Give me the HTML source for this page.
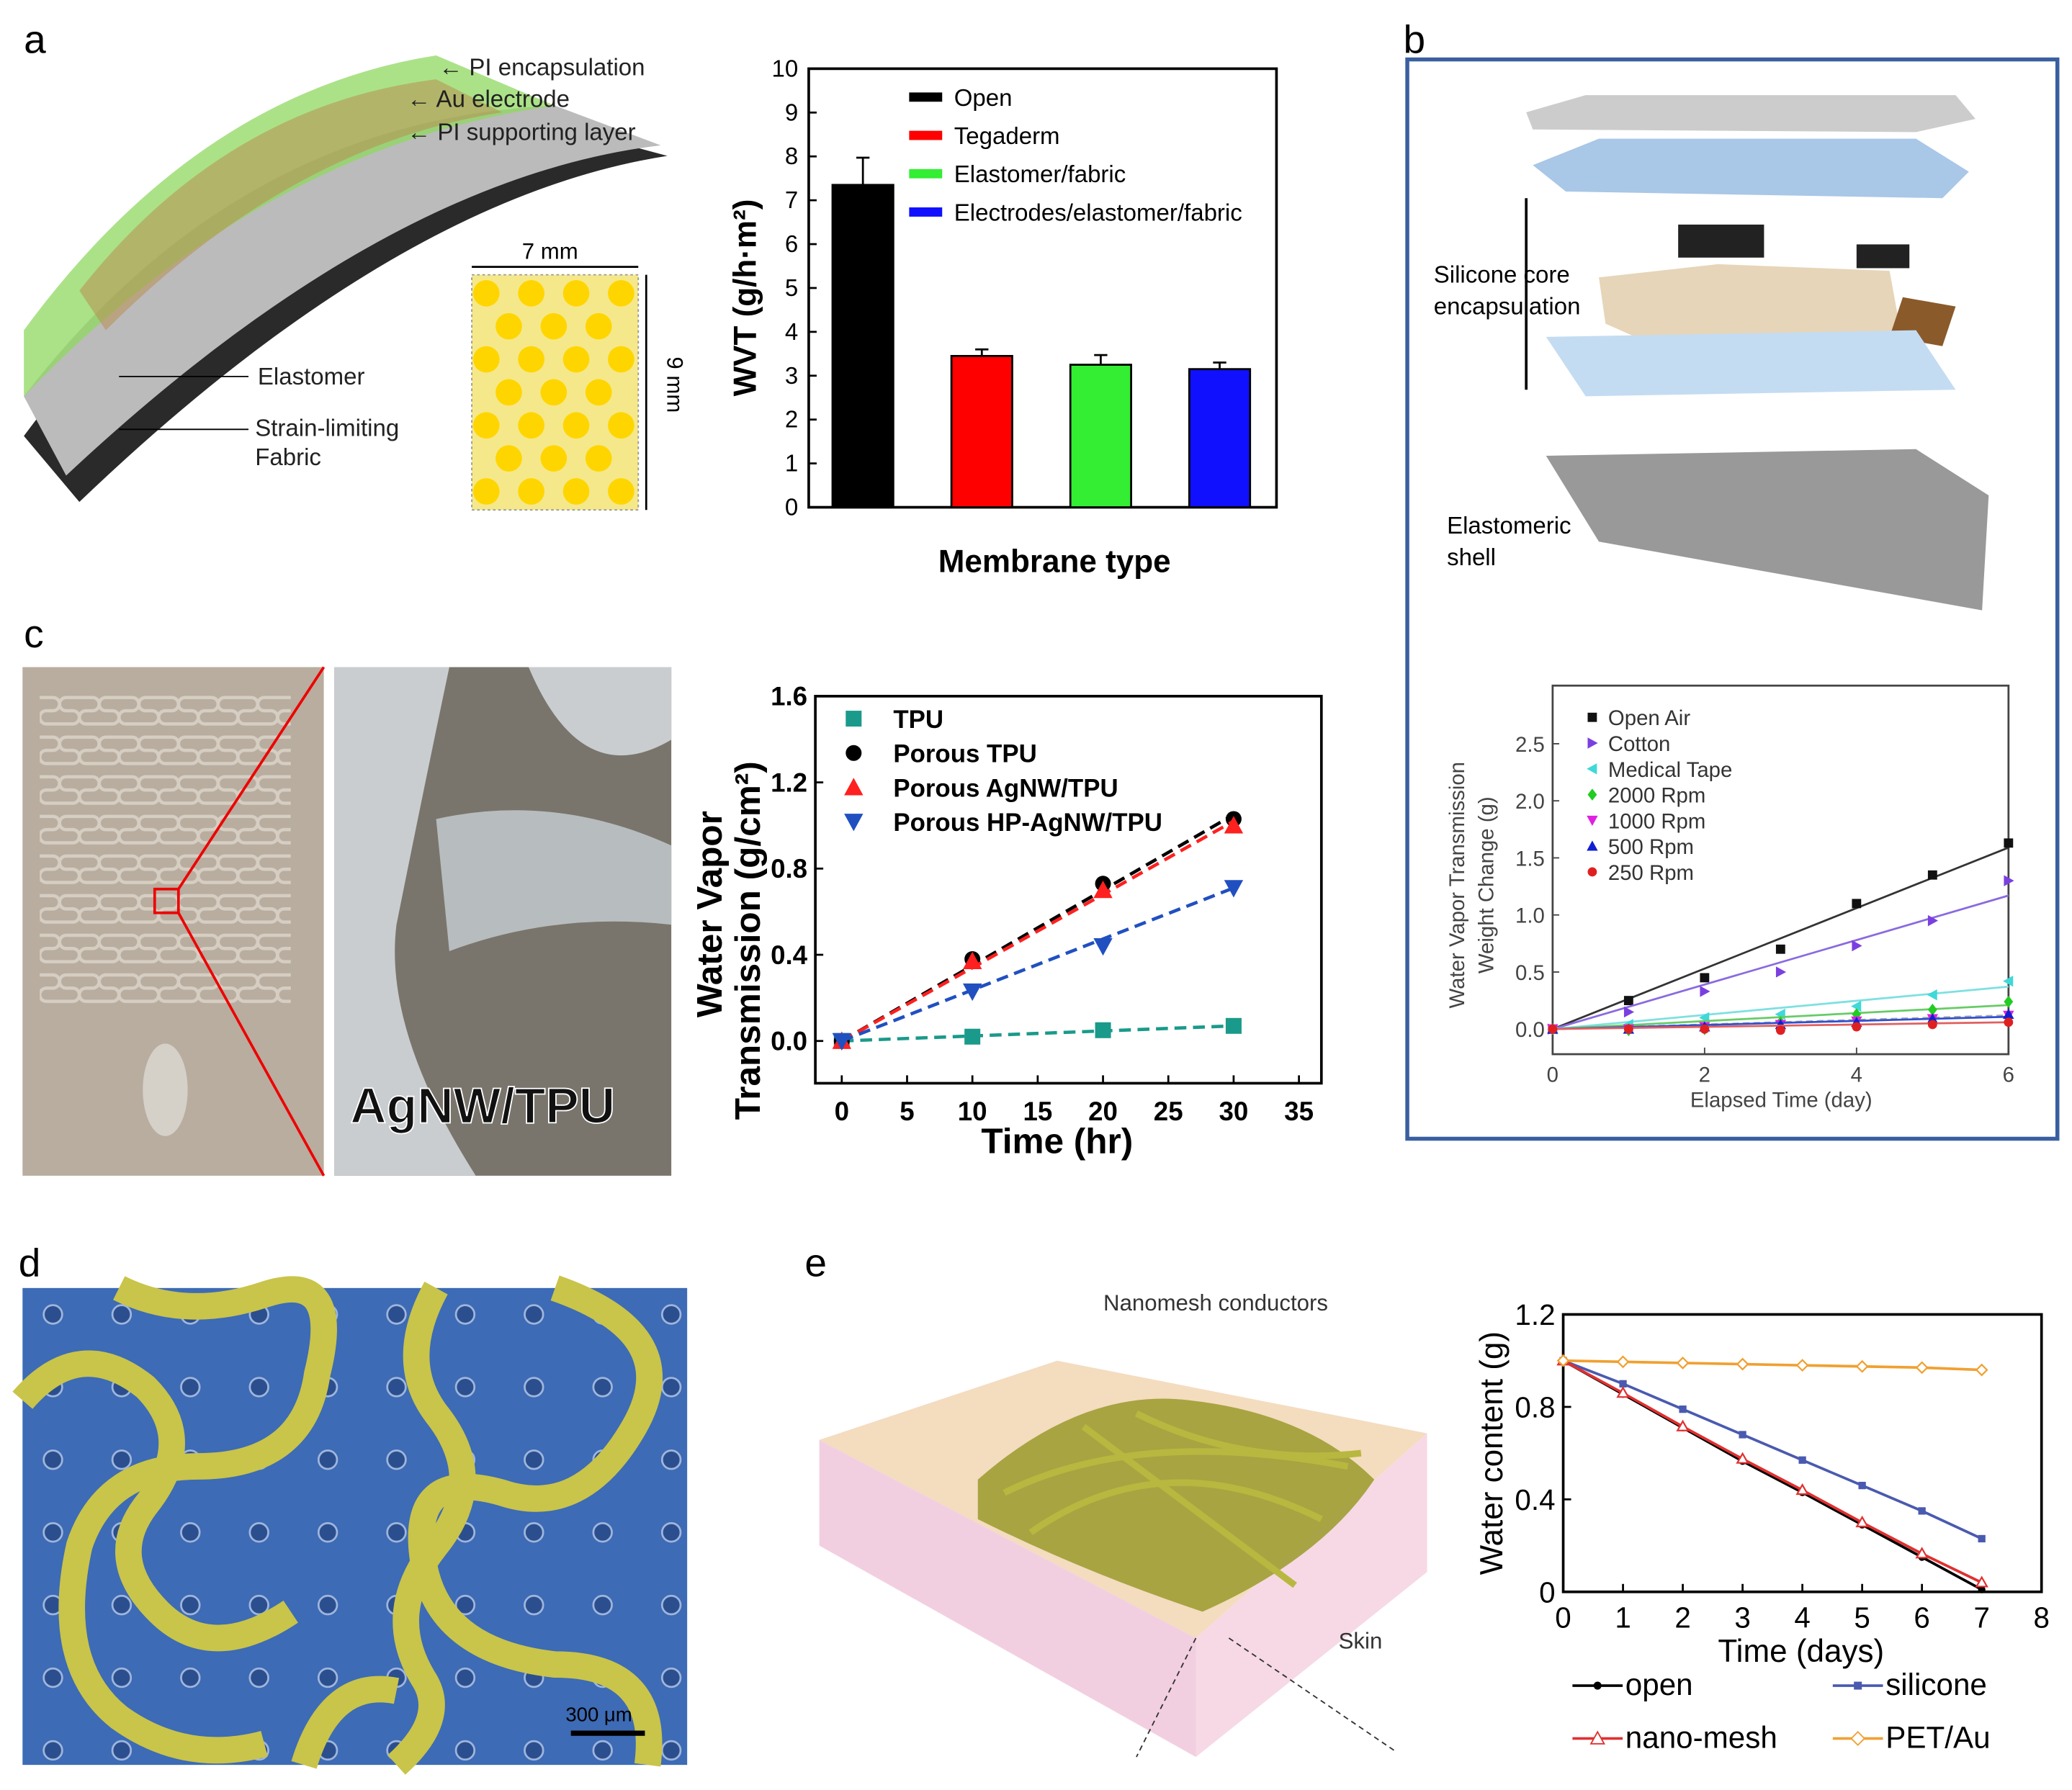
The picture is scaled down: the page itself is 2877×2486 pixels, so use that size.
<!DOCTYPE html>
<html><head><meta charset="utf-8"><style>
html,body{margin:0;padding:0;background:#fff}
svg{display:block}
text{font-family:"Liberation Sans",Arial,sans-serif}
</style></head><body>
<svg id="fig" xmlns="http://www.w3.org/2000/svg" width="2877" height="2486" viewBox="0 0 1568 1355">
<defs>
<pattern id="serp" x="30" y="520" width="30" height="30" patternUnits="userSpaceOnUse">
<path d="M0,8 h10 a5,5 0 0 1 0,10 h-5 a5,5 0 0 0 0,10 h20 a5,5 0 0 0 0,-10 h-5 a5,5 0 0 1 0,-10 h10" fill="none" stroke="#d6cec2" stroke-width="2.5"/>
</pattern>
</defs>
<rect width="1568" height="1355" fill="#fff"/>
<!-- panel labels -->
<text x="18" y="40" font-size="30">a</text>
<text x="1062" y="40" font-size="30">b</text>
<text x="18" y="490" font-size="30">c</text>
<text x="14" y="966" font-size="30">d</text>
<text x="609" y="966" font-size="30">e</text>

<!-- panel a illustration -->
<g>
<path d="M18,330 Q180,110 420,95 L505,118 Q300,150 60,380 Z" fill="#2a2a2a"/>
<path d="M18,300 Q180,90 420,80 L500,110 Q290,135 50,360 Z" fill="#bbb"/>
<path d="M18,250 Q150,70 330,42 L420,80 Q200,110 18,300 Z" fill="#8fd860" opacity="0.75"/>
<path d="M60,220 Q170,80 330,60 L380,85 Q220,110 80,250 Z" fill="#b89050" opacity="0.55"/>
<rect x="357" y="208" width="126" height="178" fill="#f5e88a" stroke="#999" stroke-dasharray="2,2"/>
<g id="dotsA"></g>
<line x1="357" y1="202" x2="483" y2="202" stroke="#000" stroke-width="1.5"/>
<text x="395" y="196" font-size="17">7 mm</text>
<line x1="489" y1="208" x2="489" y2="386" stroke="#000" stroke-width="1.5"/>
<text x="0" y="0" font-size="17" transform="translate(505,270) rotate(90)">9 mm</text>
<g font-size="18" fill="#222">
<text x="332" y="57">← PI encapsulation</text>
<text x="308" y="81">← Au electrode</text>
<text x="308" y="106">← PI supporting layer</text>
<text x="195" y="291">Elastomer</text>
<text x="193" y="330">Strain-limiting</text>
<text x="193" y="352">Fabric</text>
</g>
<line x1="90" y1="285" x2="188" y2="285" stroke="#000"/>
<line x1="90" y1="325" x2="188" y2="325" stroke="#000"/>
</g>

<!-- chart a -->
<g id="chartA"></g>
<!-- panel b -->
<rect x="1065" y="45" width="492" height="817" fill="none" stroke="#3a5fa0" stroke-width="3"/>
<g>
<polygon points="1155,85 1200,72 1480,72 1495,90 1450,100 1160,98" fill="#ccc"/>
<polygon points="1160,125 1210,105 1450,105 1490,130 1470,150 1185,145" fill="#a9c7e6"/>
<rect x="1270" y="170" width="65" height="25" fill="#222"/>
<rect x="1405" y="185" width="40" height="18" fill="#222"/>
<polygon points="1210,210 1300,200 1430,205 1440,260 1260,265 1215,245" fill="#e6d5b8"/>
<polygon points="1440,225 1480,232 1470,262 1430,255" fill="#8b5a2b"/>
<polygon points="1170,255 1450,250 1480,295 1200,300" fill="#c4dcf2"/>
<polygon points="1170,345 1450,340 1505,375 1500,462 1210,410" fill="#999"/>
<line x1="1155" y1="150" x2="1155" y2="295" stroke="#000" stroke-width="2"/>
<text x="1085" y="214" font-size="18">Silicone core</text>
<text x="1085" y="238" font-size="18">encapsulation</text>
<text x="1095" y="404" font-size="18">Elastomeric</text>
<text x="1095" y="428" font-size="18">shell</text>
</g>
<g id="chartB"></g>

<!-- panel c photos -->
<rect x="17" y="505" width="228" height="385" fill="#b8ad9f"/>
<rect x="30" y="520" width="190" height="240" fill="url(#serp)"/>
<ellipse cx="125" cy="825" rx="17" ry="35" fill="#d5d0c8"/>
<rect x="117" y="673" width="18" height="18" fill="none" stroke="#e00" stroke-width="2"/>
<line x1="135" y1="673" x2="245" y2="505" stroke="#e00" stroke-width="2"/>
<line x1="135" y1="691" x2="245" y2="890" stroke="#e00" stroke-width="2"/>
<rect x="253" y="505" width="255" height="385" fill="#7a756c"/>
<path d="M253,505 L340,505 Q320,600 300,700 Q290,780 360,890 L253,890 Z M400,505 L508,505 L508,560 Q440,600 400,505 Z" fill="#c9cdd0"/>
<path d="M330,620 Q420,600 508,640 L508,700 Q420,690 340,720 Z" fill="#b7bcbe"/>
<text x="265" y="850" font-size="38" font-weight="bold" fill="#111" stroke="#fff" stroke-width="1">AgNW/TPU</text>
<g id="chartC"></g>

<!-- panel d -->
<rect x="17" y="975" width="503" height="361" fill="#3d6bb5"/>
<g id="holesD"></g>
<g fill="none" stroke="#c9c44a" stroke-width="20">
<path d="M17,1060 Q60,1010 110,1050 Q150,1090 110,1140 Q80,1180 120,1220 Q160,1260 220,1220"/>
<path d="M90,975 Q140,1000 200,980 Q260,960 240,1040 Q230,1110 150,1110 Q80,1110 60,1170 Q40,1260 90,1300 Q140,1336 200,1320"/>
<path d="M330,975 Q300,1030 330,1070 Q370,1120 330,1170 Q290,1220 320,1270 Q340,1300 300,1336"/>
<path d="M420,975 Q520,1010 480,1080 Q440,1150 380,1130 Q310,1110 320,1180 Q330,1250 420,1260 Q500,1260 490,1336"/>
<path d="M230,1336 Q250,1270 300,1280"/>
</g>
<line x1="432" y1="1312" x2="488" y2="1312" stroke="#000" stroke-width="4"/>
<text x="428" y="1303" font-size="15">300 μm</text>

<!-- panel e illustration -->
<g>
<polygon points="620,1090 800,1030 1080,1085 905,1240" fill="#f4dcbf"/>
<polygon points="620,1090 905,1240 905,1330 620,1170" fill="#f2cfe0"/>
<polygon points="905,1240 1080,1085 1080,1190 905,1330" fill="#f7d9e5"/>
<path d="M740,1120 Q820,1050 900,1060 Q990,1070 1040,1120 Q1000,1180 910,1220 Q820,1190 740,1150 Z" fill="#9a9a2a" opacity="0.85"/>
<g stroke="#b8b840" stroke-width="5" fill="none">
<path d="M760,1130 Q860,1080 1020,1110"/><path d="M780,1160 Q880,1090 1000,1150"/><path d="M820,1080 Q900,1140 980,1200"/><path d="M860,1070 Q940,1110 1030,1100"/>
</g>
<text x="835" y="992" font-size="17" fill="#333">Nanomesh conductors</text>
<text x="1013" y="1248" font-size="17" fill="#333">Skin</text>
<line x1="905" y1="1240" x2="860" y2="1330" stroke="#333" stroke-dasharray="4,3"/>
<line x1="930" y1="1240" x2="1055" y2="1325" stroke="#333" stroke-dasharray="4,3"/>
</g>
<g id="chartE"></g>

<script>
// ---------- chart a data ----------
const aCategories=["Open","Tegaderm","Elastomer/fabric","Electrodes/elastomer/fabric"];
const aValues=[7.35,3.45,3.25,3.15];
const aErrors=[0.62,0.15,0.22,0.15];
const aColors=["#000","#ff0000","#33ee33","#1010ff"];
const aTicks=[0,1,2,3,4,5,6,7,8,9,10];
// ---------- chart b data ----------
const bSeries=["Open Air","Cotton","Medical Tape","2000 Rpm","1000 Rpm","500 Rpm","250 Rpm"];
const bDays=[0,1,2,3,4,5,6];
const bOpen=[0,0.25,0.45,0.7,1.1,1.35,1.63];
const bCotton=[0,0.15,0.33,0.5,0.73,0.95,1.3];
const bTape=[0,0.04,0.1,0.13,0.2,0.3,0.42];
const b2000=[0,-0.01,0.0,0.06,0.13,0.17,0.24];
const b1000=[0,0.0,0.02,0.04,0.07,0.09,0.12];
const b500=[0,0.0,0.02,0.04,0.06,0.09,0.13];
const b250=[0,0.0,0.0,-0.01,0.02,0.04,0.06];
const bSlopes=[0.265,0.195,0.062,0.035,0.02,0.018,0.01];
const bYTicks=[0.0,0.5,1.0,1.5,2.0,2.5];
const bXTicks=[0,2,4,6];
// ---------- chart c data ----------
const cSeries=["TPU","Porous TPU","Porous AgNW/TPU","Porous HP-AgNW/TPU"];
const cTimes=[0,10,20,30];
const cTPU=[0,0.02,0.05,0.07];
const cPorous=[0,0.38,0.73,1.03];
const cAgNW=[0,0.37,0.70,1.00];
const cHP=[0,0.23,0.44,0.71];
const cYTicks=[0.0,0.4,0.8,1.2,1.6];
const cXTicks=[0,5,10,15,20,25,30,35];
// ---------- chart e data ----------
const eSeries=["open","silicone","nano-mesh","PET/Au"];
const eDays=[0,1,2,3,4,5,6,7];
const eOpen=[1,0.855,0.71,0.565,0.43,0.29,0.15,0.01];
const eSilicone=[1,0.9,0.79,0.68,0.57,0.46,0.35,0.23];
const eNano=[1,0.86,0.715,0.575,0.44,0.3,0.165,0.04];
const ePET=[1,0.995,0.99,0.985,0.98,0.975,0.97,0.96];
const eYTicks=[0,0.4,0.8,1.2];
const eXTicks=[0,1,2,3,4,5,6,7,8];

const NS="http://www.w3.org/2000/svg";
function mk(parent,tag,attrs,name){const e=document.createElementNS(NS,tag);for(const k in attrs)e.setAttribute(k,attrs[k]);


parent.appendChild(e);return e;}
function txt(parent,x,y,s,size,name,extra){const e=mk(parent,'text',Object.assign({x:x,y:y,'font-size':size},extra||{}),name);e.textContent=s;return e;}
function marker(g,shape,x,y,r,fill,name){
  let p;
  if(shape==='sq')p=mk(g,'rect',{x:x-r,y:y-r,width:2*r,height:2*r,fill:fill},name);
  else if(shape==='ci')p=mk(g,'circle',{cx:x,cy:y,r:r,fill:fill},name);
  else if(shape==='up')p=mk(g,'polygon',{points:`${x},${y-r*1.2} ${x-r*1.2},${y+r} ${x+r*1.2},${y+r}`,fill:fill},name);
  else if(shape==='dn')p=mk(g,'polygon',{points:`${x},${y+r*1.2} ${x-r*1.2},${y-r} ${x+r*1.2},${y-r}`,fill:fill},name);
  else if(shape==='rt')p=mk(g,'polygon',{points:`${x+r*1.2},${y} ${x-r},${y-r*1.2} ${x-r},${y+r*1.2}`,fill:fill},name);
  else if(shape==='lt')p=mk(g,'polygon',{points:`${x-r*1.2},${y} ${x+r},${y-r*1.2} ${x+r},${y+r*1.2}`,fill:fill},name);
  else if(shape==='di')p=mk(g,'polygon',{points:`${x},${y-r*1.3} ${x+r},${y} ${x},${y+r*1.3} ${x-r},${y}`,fill:fill},name);
  return p;
}
(function(){const g=document.getElementById('dotsA');for(let i=0;i<7;i++)for(let j=0;j<4;j++){const x=368+j*34+(i%2)*17,y=222+i*25;if(x<480)mk(g,'circle',{cx:x,cy:y,r:10,fill:'#ffd500'},'pad');}})();
(function(){const g=document.getElementById('holesD');for(let i=0;i<7;i++)for(let j=0;j<10;j++)mk(g,'circle',{cx:40+j*52,cy:995+i*55,r:7,fill:'#2b4f8e',stroke:'#9fb5dd','stroke-width':1.5},'hole');})();

// ---------- chart A ----------
(function(){const g=document.getElementById('chartA');
const L=612,R=966,T=52,B=384;const y=v=>B-(v/10)*(B-T);
mk(g,'rect',{x:L,y:T,width:R-L,height:B-T,fill:'none',stroke:'#000','stroke-width':2},'plot-frame');
aTicks.forEach(t=>{mk(g,'line',{x1:L,y1:y(t),x2:L+6,y2:y(t),stroke:'#000','stroke-width':1.5},'y-tick');
 txt(g,L-8,y(t)+6,String(t),18,'y-tick-label',{'text-anchor':'end'});});
const bw=46;
aValues.forEach((v,i)=>{const cx=653+i*90;
 mk(g,'rect',{x:cx-bw/2,y:y(v),width:bw,height:B-y(v),fill:aColors[i],stroke:'#000','stroke-width':1.5},'bar-'+aCategories[i].toLowerCase().replace(/[^a-z]+/g,'-'));
 const e=aErrors[i];mk(g,'line',{x1:cx,y1:y(v),x2:cx,y2:y(v+e),stroke:'#000','stroke-width':1.5},'error-bar');
 mk(g,'line',{x1:cx-5,y1:y(v+e),x2:cx+5,y2:y(v+e),stroke:'#000','stroke-width':1.5},'error-cap');});
aCategories.forEach((c,i)=>{const yy=74+i*29;mk(g,'rect',{x:688,y:yy-4,width:25,height:7,fill:aColors[i]},'legend-swatch');
 txt(g,722,yy+6,c,18,'legend-entry');});
txt(g,0,0,'WVT (g/h·m²)',24,'y-axis-title',{'font-weight':'bold',transform:`translate(572,300) rotate(-90)`});
txt(g,798,433,'Membrane type',24,'x-axis-title',{'text-anchor':'middle','font-weight':'bold'});
})();

// ---------- chart B ----------
(function(){const g=document.getElementById('chartB');
const L=1175,R=1520,T=519,B=798;const x0=L,y0=779;const x=v=>x0+v/6*(R-L);const y=v=>y0-v*86.4;
mk(g,'rect',{x:L,y:T,width:R-L,height:B-T,fill:'none',stroke:'#444','stroke-width':1.5},'plot-frame');
bYTicks.forEach(t=>{mk(g,'line',{x1:L,y1:y(t),x2:L+5,y2:y(t),stroke:'#444'},'y-tick');txt(g,L-6,y(t)+6,t.toFixed(1),16,'y-tick-label',{'text-anchor':'end',fill:'#444'});});
bXTicks.forEach(t=>{mk(g,'line',{x1:x(t),y1:B,x2:x(t),y2:B-5,stroke:'#444'},'x-tick');txt(g,x(t),B+21,String(t),16,'x-tick-label',{'text-anchor':'middle',fill:'#444'});});
const data=[bOpen,bCotton,bTape,b2000,b1000,b500,b250];
const cols=['#111','#7b3fe0','#40d8d8','#22cc22','#e020e0','#1020d0','#e02020'];
const lcols=['#333','#8a6ae0','#7ee0e0','#66cc66','#aaa','#3050d0','#e06060'];
const shapes=['sq','rt','lt','di','dn','up','ci'];
data.forEach((arr,k)=>{mk(g,'line',{x1:x(0),y1:y(0),x2:x(6),y2:y(bSlopes[k]*6),stroke:lcols[k],'stroke-width':1.5,'stroke-dasharray':k==4?'5,3':'none'},'fit-line');
 arr.forEach((v,i)=>marker(g,shapes[k],x(bDays[i]),y(v),3.5,cols[k],'point'));});
bSeries.forEach((s,i)=>{const yy=543+i*19.5;marker(g,shapes[i],1205,yy,3.5,cols[i],'legend-marker');txt(g,1217,yy+6,s,16,'legend-entry',{fill:'#333'});});
txt(g,0,0,'Water Vapor Transmission',16,'y-axis-title',{'text-anchor':'middle',fill:'#444',transform:'translate(1108,670) rotate(-90)'});
txt(g,0,0,'Weight Change (g)',16,'y-axis-title-2',{'text-anchor':'middle',fill:'#444',transform:'translate(1130,670) rotate(-90)'});
txt(g,1348,838,'Elapsed Time (day)',16,'x-axis-title',{'text-anchor':'middle',fill:'#444'});
})();

// ---------- chart C ----------
(function(){const g=document.getElementById('chartC');
const L=617,R=1000,T=527,B=820;const x=v=>637+v/35*(983-637);const y=v=>788-v/1.6*(788-527);
mk(g,'rect',{x:L,y:T,width:R-L,height:B-T,fill:'none',stroke:'#000','stroke-width':2},'plot-frame');
cYTicks.forEach(t=>{mk(g,'line',{x1:L,y1:y(t),x2:L+6,y2:y(t),stroke:'#000','stroke-width':1.5},'y-tick');txt(g,L-6,y(t)+7,t.toFixed(1),20,'y-tick-label',{'text-anchor':'end','font-weight':'bold'});});
cXTicks.forEach(t=>{mk(g,'line',{x1:x(t),y1:B,x2:x(t),y2:B-6,stroke:'#000','stroke-width':1.5},'x-tick');txt(g,x(t),B+28,String(t),20,'x-tick-label',{'text-anchor':'middle','font-weight':'bold'});});
const data=[cTPU,cPorous,cAgNW,cHP];const cols=['#1a9a8a','#000','#ff2020','#2050c0'];const shapes=['sq','ci','up','dn'];
data.forEach((arr,k)=>{mk(g,'line',{x1:x(0),y1:y(0),x2:x(30),y2:y(arr[3]+0.02*(k==1||k==2)),stroke:cols[k],'stroke-width':2.5,'stroke-dasharray':'9,5'},'fit-line');
 arr.forEach((v,i)=>marker(g,shapes[k],x(cTimes[i]),y(v),6,cols[k],'point'));});
cSeries.forEach((s,i)=>{const yy=544+i*26;marker(g,shapes[i],646,yy,6,cols[i],'legend-marker');txt(g,676,yy+7,s,19,'legend-entry',{'font-weight':'bold'});});
txt(g,0,0,'Water Vapor',27,'y-axis-title',{'text-anchor':'middle','font-weight':'bold',transform:'translate(546,692) rotate(-90)'});
txt(g,0,0,'Transmission (g/cm²)',27,'y-axis-title-2',{'text-anchor':'middle','font-weight':'bold',transform:'translate(575,712) rotate(-90)'});
txt(g,800,873,'Time (hr)',27,'x-axis-title',{'text-anchor':'middle','font-weight':'bold'});
})();

// ---------- chart E ----------
(function(){const g=document.getElementById('chartE');
const L=1183,R=1545,T=995,B=1205;const x=v=>L+v/8*(R-L);const y=v=>B-v/1.2*(B-T);
mk(g,'rect',{x:L,y:T,width:R-L,height:B-T,fill:'none',stroke:'#000','stroke-width':2},'plot-frame');
eYTicks.forEach(t=>{mk(g,'line',{x1:L,y1:y(t),x2:L+6,y2:y(t),stroke:'#000','stroke-width':1.5},'y-tick');txt(g,L-6,y(t)+8,String(t),22,'y-tick-label',{'text-anchor':'end'});});
eXTicks.forEach(t=>{mk(g,'line',{x1:x(t),y1:B,x2:x(t),y2:B-6,stroke:'#000','stroke-width':1.5},'x-tick');txt(g,x(t),B+27,String(t),22,'x-tick-label',{'text-anchor':'middle'});});
const data=[eOpen,eSilicone,eNano,ePET];const cols=['#000','#4a5ab0','#e03030','#f0a030'];const shapes=['ci','sq','tri','di'];
data.forEach((arr,k)=>{mk(g,'polyline',{points:arr.map((v,i)=>x(eDays[i])+','+y(v)).join(' '),fill:'none',stroke:cols[k],'stroke-width':2},'series-line');
 arr.forEach((v,i)=>{const px=x(eDays[i]),py=y(v);
  if(k==2)mk(g,'polygon',{points:`${px},${py-4} ${px-4},${py+3} ${px+4},${py+3}`,fill:'#fff',stroke:cols[k],'stroke-width':1.2},'point');
  else if(k==3)mk(g,'polygon',{points:`${px},${py-4} ${px+4},${py} ${px},${py+4} ${px-4},${py}`,fill:'#fff',stroke:cols[k],'stroke-width':1.2},'point');
  else marker(g,shapes[k],px,py,2.8,cols[k],'point');});});
const lp=[[1190,1283],[1387,1283],[1190,1323],[1387,1323]];
eSeries.forEach((s,i)=>{const [lx,ly]=lp[i];mk(g,'line',{x1:lx,y1:ly-7,x2:lx+38,y2:ly-7,stroke:cols[i],'stroke-width':2},'legend-line');
 if(i==2)mk(g,'polygon',{points:`${lx+19},${ly-12} ${lx+14},${ly-3} ${lx+24},${ly-3}`,fill:'#fff',stroke:cols[i]},'legend-marker');
 else if(i==3)mk(g,'polygon',{points:`${lx+19},${ly-12} ${lx+24},${ly-7} ${lx+19},${ly-2} ${lx+14},${ly-7}`,fill:'#fff',stroke:cols[i]},'legend-marker');
 else marker(g,shapes[i],lx+19,ly-7,3,cols[i],'legend-marker');
 txt(g,lx+40,ly,s,23,'legend-entry');});
txt(g,0,0,'Water content (g)',24,'y-axis-title',{'text-anchor':'middle',transform:'translate(1137,1100) rotate(-90)'});
txt(g,1363,1258,'Time (days)',24,'x-axis-title',{'text-anchor':'middle'});
})();
</script>
</svg>
</body></html>
